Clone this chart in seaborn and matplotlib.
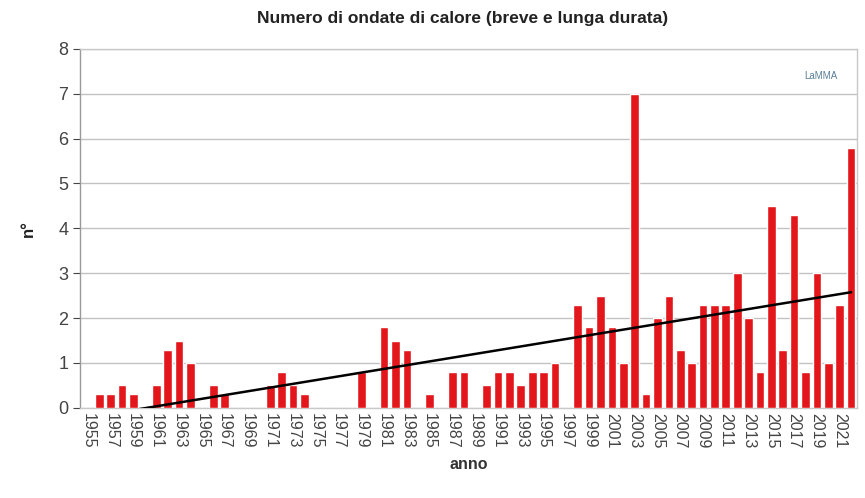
import numpy as np
import pandas as pd
import matplotlib
matplotlib.use("Agg")
import matplotlib.pyplot as plt
import seaborn as sns

years = list(range(1955, 2023))
heatwaves = [
    0.0, 0.3, 0.3, 0.5, 0.3, 0.0, 0.5, 1.3, 1.5, 1.0,   # 1955-1964
    0.0, 0.5, 0.3, 0.0, 0.0, 0.0, 0.5, 0.8, 0.5, 0.3,   # 1965-1974
    0.0, 0.0, 0.0, 0.0, 0.8, 0.0, 1.8, 1.5, 1.3, 0.0,   # 1975-1984
    0.3, 0.0, 0.8, 0.8, 0.0, 0.5, 0.8, 0.8, 0.5, 0.8,   # 1985-1994
    0.8, 1.0, 0.0, 2.3, 1.8, 2.5, 1.8, 1.0, 7.0, 0.3,   # 1995-2004
    2.0, 2.5, 1.3, 1.0, 2.3, 2.3, 2.3, 3.0, 2.0, 0.8,   # 2005-2014
    4.5, 1.3, 4.3, 0.8, 3.0, 1.0, 2.3, 5.8,             # 2015-2022
]
tick_years = years[::2]

df = pd.DataFrame({"anno": [str(y) for y in years], "n": heatwaves})

sns.set_style("white")
plt.rcParams["font.family"] = ["Liberation Sans", "DejaVu Sans"]

fig = plt.figure(figsize=(8.65, 4.98), dpi=100)
ax = fig.add_axes([0.0925, 0.181, 0.898, 0.721])

sns.barplot(data=df, x="anno", y="n", color="#e3161b", saturation=1,
            width=0.76, ax=ax, zorder=3)

# linear trend (least squares on the series)
xi = np.arange(len(years))
slope, icpt = np.polyfit(xi, heatwaves, 1)
ax.plot(xi, slope * xi + icpt, color="black", lw=1.8, zorder=4)

ax.set_ylim(0, 8)
ax.set_xlim(-0.7, len(years) - 0.5)
ax.set_yticks(range(0, 9))
ax.yaxis.grid(True, color="#c2c2c2", lw=1, zorder=0)

ax.set_xticks([years.index(y) for y in tick_years])
ax.set_xticklabels([str(y) for y in tick_years], rotation=-90, fontsize=11.5,
                   color="#444444")
ax.tick_params(axis="y", labelsize=13, colors="#444444", length=5, width=0.8,
               direction="out", left=True)
ax.tick_params(axis="x", length=0, pad=4)
for s in ax.spines.values():
    s.set_color("#c8c8c8")
    s.set_linewidth(1)
ax.spines["left"].set_color("#999999")

ax.set_xlabel("anno", fontsize=11.5, fontweight="bold", color="#333333", labelpad=6)
ax.set_ylabel("n°", fontsize=12, fontweight="bold", color="#222222", labelpad=16)

fig.text(0.535, 0.962, "Numero di ondate di calore (breve e lunga durata)",
         ha="center", va="center", fontsize=12.5, fontweight="bold", color="#222222")

# logo placeholder
ax.text(0.975, 0.925, "LaMMA", transform=ax.transAxes, ha="right", va="center",
        fontsize=7, color="#5a7f9a")

fig.savefig("out.png", dpi=100, facecolor="white")
